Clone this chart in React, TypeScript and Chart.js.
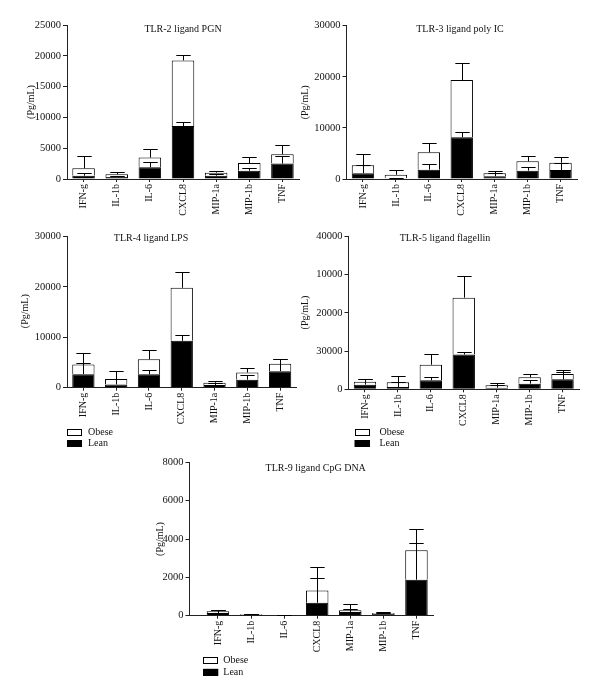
import React, { useEffect, useRef } from "react";
import { Chart, registerables } from "chart.js";

Chart.register(...registerables);

// ---------- data ----------
const categories = ["IFN-g", "IL-1b", "IL-6", "CXCL8", "MIP-1a", "MIP-1b", "TNF"];
const obeseLabel = "Obese";
const leanLabel = "Lean";
const yAxisTitle = "(Pg/mL)";

// TLR-2 ligand PGN
const tlr2Title = "TLR-2 ligand PGN";
const tlr2Lean = [540, 330, 1900, 8600, 540, 1350, 2500];
const tlr2Obese = [1200, 430, 1570, 10650, 490, 1250, 1520];
const tlr2LeanErr = [490, 210, 920, 650, 220, 390, 1300];
const tlr2ObeseErr = [2050, 430, 1470, 900, 320, 980, 1470];
const tlr2Ticks = ["0", "5000", "10000", "15000", "20000", "25000"];
const tlr2Step = 5000;

// TLR-3 ligand poly IC
const tlr3Title = "TLR-3 ligand poly IC";
const tlr3Lean = [1120, 140, 1820, 8170, 530, 1630, 1760];
const tlr3Obese = [1570, 700, 3410, 11180, 590, 1820, 1440];
const tlr3LeanErr = [1530, 100, 1180, 1110, 720, 720, 1380];
const tlr3ObeseErr = [2150, 860, 1770, 3400, 390, 1060, 1050];
const tlr3Ticks = ["0", "10000", "20000", "30000"];
const tlr3Step = 10000;

// TLR-4 ligand LPS
const tlr4Title = "TLR-4 ligand LPS";
const tlr4Lean = [2680, 650, 2680, 9280, 520, 1570, 3270];
const tlr4Obese = [1900, 1050, 2940, 10520, 460, 1440, 1500];
const tlr4LeanErr = [2290, 1000, 780, 1180, 330, 850, 2350];
const tlr4ObeseErr = [2280, 1630, 1900, 3210, 260, 980, 920];
const tlr4Ticks = ["0", "10000", "20000", "30000"];
const tlr4Step = 10000;

// TLR-5 ligand flagellin (tick labels as printed in the original figure)
const tlr5Title = "TLR-5 ligand flagellin";
const tlr5Lean = [1220, 610, 2340, 9100, 430, 1480, 2600];
const tlr5Obese = [780, 1210, 4080, 14850, 610, 1640, 1390];
const tlr5LeanErr = [1380, 1190, 870, 700, 700, 860, 2000];
const tlr5ObeseErr = [780, 1740, 2860, 5550, 520, 960, 960];
const tlr5Ticks = ["0", "30000", "20000", "10000", "40000"];
const tlr5Step = 10000;

// TLR-9 ligand CpG DNA
const tlr9Title = "TLR-9 ligand CpG DNA";
const tlr9Lean = [143, 50, 10, 674, 196, 90, 1878];
const tlr9Obese = [85, 40, 15, 636, 85, 53, 1531];
const tlr9LeanErr = [150, 30, 10, 1306, 175, 40, 1931];
const tlr9ObeseErr = [90, 20, 15, 1220, 339, 53, 1095];
const tlr9Ticks = ["0", "2000", "4000", "6000", "8000"];
const tlr9Step = 2000;

// ---------- layout (page coordinates) ----------
const FONT = "'Liberation Serif', 'Times New Roman', serif";
const INK = "#111";
const Y_W = 35;
const X_H = 45;

type Panel = {
  title: string;
  lean: number[];
  obese: number[];
  leanErr: number[];
  obeseErr: number[];
  ticks: string[];
  step: number;
  canvas: { x: number; y: number; w: number; h: number };
  area: { l: number; t: number; r: number; b: number };
  titleX: number;
  titleY: number;
  yTitleX: number;
  lead: number;
  legend: null | { x: number; y: number; gap: number };
};

const panels: Panel[] = [
  {
    title: tlr2Title, lean: tlr2Lean, obese: tlr2Obese, leanErr: tlr2LeanErr, obeseErr: tlr2ObeseErr,
    ticks: tlr2Ticks, step: tlr2Step,
    canvas: { x: 0, y: 0, w: 300, h: 228 }, area: { l: 67, t: 25, r: 299, b: 179 },
    titleX: 183, titleY: 29, yTitleX: 31, lead: 0, legend: null,
  },
  {
    title: tlr3Title, lean: tlr3Lean, obese: tlr3Obese, leanErr: tlr3LeanErr, obeseErr: tlr3ObeseErr,
    ticks: tlr3Ticks, step: tlr3Step,
    canvas: { x: 300, y: 0, w: 300, h: 228 }, area: { l: 346.5, t: 25.7, r: 577, b: 179 },
    titleX: 460, titleY: 29, yTitleX: 305, lead: 0, legend: null,
  },
  {
    title: tlr4Title, lean: tlr4Lean, obese: tlr4Obese, leanErr: tlr4LeanErr, obeseErr: tlr4ObeseErr,
    ticks: tlr4Ticks, step: tlr4Step,
    canvas: { x: 0, y: 228, w: 300, h: 225 }, area: { l: 67, t: 234.7, r: 296.5, b: 387.7 },
    titleX: 151, titleY: 238, yTitleX: 25, lead: 0, legend: { x: 67, y: 428.5, gap: 6 },
  },
  {
    title: tlr5Title, lean: tlr5Lean, obese: tlr5Obese, leanErr: tlr5LeanErr, obeseErr: tlr5ObeseErr,
    ticks: tlr5Ticks, step: tlr5Step,
    canvas: { x: 300, y: 228, w: 300, h: 225 }, area: { l: 348.5, t: 235.7, r: 579, b: 389.3 },
    titleX: 445, titleY: 238.5, yTitleX: 305, lead: 0, legend: { x: 354.5, y: 428.5, gap: 10 },
  },
  {
    title: tlr9Title, lean: tlr9Lean, obese: tlr9Obese, leanErr: tlr9LeanErr, obeseErr: tlr9ObeseErr,
    ticks: tlr9Ticks, step: tlr9Step,
    canvas: { x: 150, y: 453, w: 300, h: 246 }, area: { l: 189.5, t: 462.3, r: 433, b: 615.7 },
    titleX: 315.7, titleY: 468, yTitleX: 160.5, lead: 0.36, legend: { x: 203.3, y: 657.3, gap: 5 },
  },
];

function makeDecor(p: Panel) {
  return {
    id: "decor",
    afterDatasetsDraw(chart: any) {
      const ctx = chart.ctx;
      const ys = chart.scales.y;
      const errs = [p.leanErr, p.obeseErr];
      ctx.save();
      ctx.strokeStyle = "#000";
      ctx.lineWidth = 1;
      for (let di = 0; di < 2; di++) {
        const meta = chart.getDatasetMeta(di);
        meta.data.forEach((bar: any, j: number) => {
          const top = di === 0 ? p.lean[j] : p.lean[j] + p.obese[j];
          const yTop = ys.getPixelForValue(top);
          const yErr = ys.getPixelForValue(top + errs[di][j]);
          const x = Math.round(bar.x) + 0.5;
          const cw = bar.width * 0.32;
          ctx.beginPath();
          ctx.moveTo(x, yTop);
          ctx.lineTo(x, Math.round(yErr) + 0.5);
          ctx.moveTo(x - cw, Math.round(yErr) + 0.5);
          ctx.lineTo(x + cw, Math.round(yErr) + 0.5);
          ctx.stroke();
        });
      }
      ctx.restore();
    },
    afterDraw(chart: any) {
      const ctx = chart.ctx;
      const ox = p.canvas.x;
      const oy = p.canvas.y;
      ctx.save();
      ctx.fillStyle = INK;
      ctx.font = `10px ${FONT}`;
      ctx.textAlign = "center";
      ctx.textBaseline = "middle";
      ctx.fillText(p.title, p.titleX - ox, p.titleY - oy);
      // y-axis title
      ctx.save();
      ctx.translate(p.yTitleX - ox, (p.area.t + p.area.b) / 2 - oy);
      ctx.rotate(-Math.PI / 2);
      ctx.fillText(yAxisTitle, 0, 0);
      ctx.restore();
      // legend
      if (p.legend) {
        const items = [
          { label: obeseLabel, fill: "#fff" },
          { label: leanLabel, fill: "#000" },
        ];
        items.forEach((it, i) => {
          const bx = p.legend!.x - ox;
          const by = p.legend!.y - oy + i * 11.5;
          ctx.fillStyle = it.fill;
          ctx.fillRect(bx, by, 15, 7);
          ctx.strokeStyle = "#000";
          ctx.lineWidth = 1;
          ctx.strokeRect(Math.round(bx) + 0.5, Math.round(by) + 0.5, 14, 6);
          ctx.fillStyle = INK;
          ctx.textAlign = "left";
          ctx.fillText(it.label, bx + 15 + p.legend!.gap, by + 3.5);
        });
      }
      ctx.restore();
    },
  };
}

function PanelChart({ p }: { p: Panel }) {
  const ref = useRef<HTMLCanvasElement | null>(null);
  useEffect(() => {
    if (!ref.current) return;
    const yMax = p.step * (p.ticks.length - 1);
    const chart = new Chart(ref.current, {
      type: "bar",
      data: {
        labels: categories,
        datasets: [
          {
            label: leanLabel,
            data: p.lean,
            backgroundColor: "#000",
            borderColor: "#000",
            borderWidth: 1,
            stack: "s",
            barPercentage: 0.68,
            categoryPercentage: 1,
          },
          {
            label: obeseLabel,
            data: p.obese,
            backgroundColor: "#fff",
            borderColor: "#000",
            borderWidth: 1,
            stack: "s",
            barPercentage: 0.68,
            categoryPercentage: 1,
          },
        ],
      },
      options: {
        responsive: false,
        maintainAspectRatio: false,
        animation: false,
        events: [],
        layout: {
          padding: {
            left: p.area.l - p.canvas.x - Y_W,
            top: p.area.t - p.canvas.y,
            right: p.canvas.x + p.canvas.w - p.area.r,
            bottom: p.canvas.y + p.canvas.h - p.area.b - X_H,
          },
        },
        plugins: {
          legend: { display: false },
          tooltip: { enabled: false },
          title: { display: false },
        },
        scales: {
          x: {
            stacked: true,
            offset: true,
            grid: { display: true, drawOnChartArea: false, offset: false, tickLength: 3, color: "#222" },
            border: { display: true, color: "#222", width: 1 },
            ticks: {
              minRotation: 90,
              maxRotation: 90,
              autoSkip: false,
              padding: 2,
              color: INK,
              font: { family: FONT, size: 10 },
            },
            afterFit: (s: any) => {
              s.height = X_H;
            },
            afterBuildTicks: (s: any) => {
              if (p.lead) {
                s._startValue = -0.5 - p.lead;
                s._valueRange = categories.length + p.lead;
              }
            },
          },
          y: {
            stacked: true,
            min: 0,
            max: yMax,
            grid: { display: true, drawOnChartArea: false, tickLength: 4, color: "#222" },
            border: { display: true, color: "#222", width: 1 },
            ticks: {
              stepSize: p.step,
              padding: 2,
              color: INK,
              font: { family: FONT, size: 10.5 },
              callback: (_v: any, i: number) => p.ticks[i],
            },
            afterFit: (s: any) => {
              s.width = Y_W;
            },
          },
        },
      } as any,
      plugins: [makeDecor(p)],
    });
    return () => chart.destroy();
  }, [p]);
  return (
    <canvas
      ref={ref}
      width={p.canvas.w}
      height={p.canvas.h}
      style={{
        position: "absolute",
        left: p.canvas.x,
        top: p.canvas.y,
        width: p.canvas.w,
        height: p.canvas.h,
      }}
    />
  );
}

export default function App() {
  return (
    <div
      style={{
        position: "absolute",
        left: 0,
        top: 0,
        width: 600,
        height: 699,
        background: "#fff",
        overflow: "hidden",
      }}
    >
      {panels.map((p, i) => (
        <PanelChart key={i} p={p} />
      ))}
    </div>
  );
}
